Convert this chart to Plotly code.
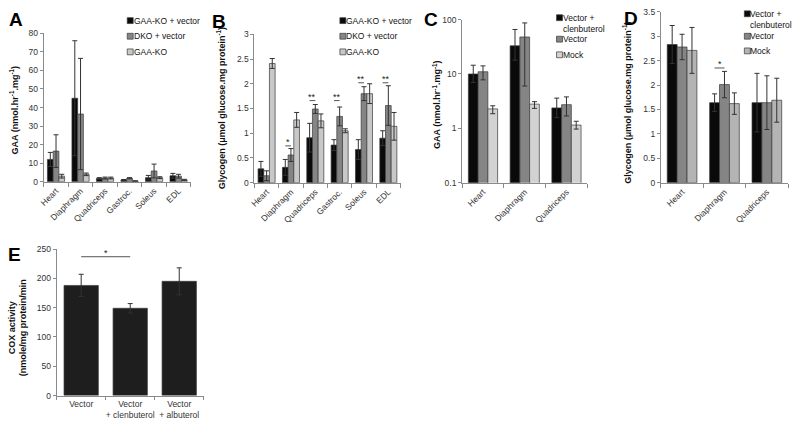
import plotly.graph_objects as go

W, H = 800, 424
FONT = "Liberation Sans"

# ---------------- Data ----------------
muscles6 = ["Heart", "Diaphragm", "Quadriceps", "Gastroc.", "Soleus", "EDL"]
ab_series = ["GAA-KO + vector", "DKO + vector", "GAA-KO"]

# Panel A: GAA activity
a_gaako_vec = [12.0, 45.0, 1.8, 1.0, 2.2, 3.2]
a_gaako_vec_err = [3.8, 31.0, 0.4, 0.2, 1.2, 1.3]
a_dko_vec = [16.5, 36.5, 2.0, 1.9, 5.8, 3.0]
a_dko_vec_err = [8.8, 30.0, 0.5, 0.3, 3.7, 1.0]
a_gaako = [3.0, 4.0, 2.0, 0.4, 2.2, 1.0]
a_gaako_err = [1.0, 0.7, 0.5, 0.1, 0.5, 0.3]

# Panel B: glycogen
b_gaako_vec = [0.28, 0.31, 0.91, 0.76, 0.67, 0.90]
b_gaako_vec_err = [0.15, 0.16, 0.29, 0.11, 0.20, 0.15]
b_dko_vec = [0.14, 0.56, 1.49, 1.34, 1.80, 1.56]
b_dko_vec_err = [0.10, 0.13, 0.09, 0.19, 0.14, 0.40]
b_gaako = [2.41, 1.27, 1.25, 1.05, 1.80, 1.14]
b_gaako_err = [0.10, 0.15, 0.14, 0.04, 0.20, 0.28]
b_sig_idx = [1, 2, 3, 4, 5]
b_sig_level = [0.745, 1.66, 1.66, 2.02, 2.02]
b_sig_text = ["*", "**", "**", "**", "**"]

# Panels C/D
muscles3 = ["Heart", "Diaphragm", "Quadriceps"]
cd_series = ["Vector +<br>clenbuterol", "Vector", "Mock"]

c_vec_clen = [10.0, 33.0, 2.38]
c_vec_clen_plus = [4.5, 33.0, 1.22]
c_vec_clen_minus = [3.0, 15.0, 0.8]
c_vec = [11.0, 48.0, 2.73]
c_vec_plus = [3.1, 39.0, 1.06]
c_vec_minus = [3.2, 42.0, 1.04]
c_mock = [2.28, 2.79, 1.15]
c_mock_plus = [0.32, 0.31, 0.20]
c_mock_minus = [0.42, 0.46, 0.18]

d_vec_clen = [2.83, 1.64, 1.64]
d_vec_clen_err = [0.39, 0.18, 0.60]
d_vec = [2.78, 2.01, 1.64]
d_vec_err = [0.26, 0.27, 0.55]
d_mock = [2.71, 1.62, 1.69]
d_mock_err = [0.47, 0.22, 0.45]
d_sig_idx = [1]
d_sig_level = [2.35]
d_sig_text = ["*"]

# Panel E: COX activity
e_groups = ["Vector", "Vector<br>+ clenbuterol", "Vector<br>+ albuterol"]
e_vals = [188, 149, 195]
e_err = [19, 8, 23]
e_sig_pair = [0, 1]
e_sig_level = 237

# ---------------- Styling ----------------
C_BLACK = "#0a0a0a"
C_DARK = "#858585"
C_LIGHT_AB = "#c8c8c8"
C_LIGHT_C = "#d2d2d2"
C_LIGHT_D = "#b4b4b4"
EDGE = "#3a3a3a"
AXC = "#8a8a8a"
TICKF = dict(size=8.5, color="#333333", family=FONT)

def px_x(p):
    return p / W

def px_y(p):
    return 1 - p / H

fig = go.Figure()

def add_bars(x, y, err, color, xa, ya, err_minus=None, name=None):
    ey = dict(type="data", array=err, visible=True, color="#333333",
              thickness=1, width=2.5)
    if err_minus is not None:
        ey["symmetric"] = False
        ey["arrayminus"] = err_minus
    fig.add_trace(go.Bar(x=x, y=y, name=name, error_y=ey,
                         marker=dict(color=color, line=dict(color=EDGE, width=0.7)),
                         xaxis=xa, yaxis=ya, showlegend=False))

# Panel A
for nm, vals, err, col in [(ab_series[0], a_gaako_vec, a_gaako_vec_err, C_BLACK),
                           (ab_series[1], a_dko_vec, a_dko_vec_err, C_DARK),
                           (ab_series[2], a_gaako, a_gaako_err, C_LIGHT_AB)]:
    add_bars(muscles6, vals, err, col, "x", "y", name=nm)

# Panel B
for nm, vals, err, col in [(ab_series[0], b_gaako_vec, b_gaako_vec_err, C_BLACK),
                           (ab_series[1], b_dko_vec, b_dko_vec_err, C_DARK),
                           (ab_series[2], b_gaako, b_gaako_err, C_LIGHT_AB)]:
    add_bars(muscles6, vals, err, col, "x2", "y2", name=nm)

# Panel C
for vals, ep, em, col in [(c_vec_clen, c_vec_clen_plus, c_vec_clen_minus, C_BLACK),
                          (c_vec, c_vec_plus, c_vec_minus, C_DARK),
                          (c_mock, c_mock_plus, c_mock_minus, C_LIGHT_C)]:
    add_bars(muscles3, vals, ep, col, "x3", "y3", err_minus=em)

# Panel D
for vals, err, col in [(d_vec_clen, d_vec_clen_err, C_BLACK),
                       (d_vec, d_vec_err, C_DARK),
                       (d_mock, d_mock_err, C_LIGHT_D)]:
    add_bars(muscles3, vals, err, col, "x4", "y4")

# Panel E
fig.add_trace(go.Bar(x=e_groups, y=e_vals,
                     error_y=dict(type="data", array=e_err, visible=True,
                                  color="#333333", thickness=1, width=2.5),
                     marker=dict(color="#1e1e1e", line=dict(color=EDGE, width=0.7)),
                     xaxis="x5", yaxis="y5", showlegend=False))

# ---------------- Axes ----------------
def ax_common():
    return dict(showline=True, linecolor=AXC, linewidth=1, ticks="outside",
                ticklen=4, tickcolor=AXC, showgrid=False, zeroline=False,
                tickfont=TICKF, fixedrange=True)

layout_axes = {}
panels = {
    "": dict(xd=(39, 187), yd=(181, 29), yr=[0, 80], dt=10, n=6, ang=-45),
    "2": dict(xd=(251, 398), yd=(182, 30), yr=[0, 3], dt=0.5, n=6, ang=-45),
    "3": dict(xd=(460, 586), yd=(182, 15), yr=[-1, 2], dt=1, n=3, ang=-45, log=True),
    "4": dict(xd=(660, 788), yd=(182, 7), yr=[0, 3.5], dt=0.5, n=3, ang=-45),
    "5": dict(xd=(52, 200), yd=(400, 250), yr=[0, 250], dt=50, n=3, ang=0),
}
for k, p in panels.items():
    xa = ax_common()
    xa.update(domain=[px_x(p["xd"][0]), px_x(p["xd"][1])], type="category",
              tickson="boundaries", tickangle=p["ang"], range=[-0.5, p["n"] - 0.5],
              anchor="y" + k)
    if k == "5":
        xa.update(ticklen=3)
    ya = ax_common()
    ya.update(domain=[px_y(p["yd"][0]), px_y(p["yd"][1])], range=p["yr"],
              dtick=p["dt"], anchor="x" + k, ticklen=3)
    if p.get("log"):
        ya.update(type="log")
    layout_axes["xaxis" + k] = xa
    layout_axes["yaxis" + k] = ya

fig.update_layout(**layout_axes)

# ---------------- Significance marks ----------------
shapes = []
annotations = []
BARGAP = 0.3

def sig(xc0, xc1, level, text, xr, yr):
    shapes.append(dict(type="line", xref=xr, yref=yr, x0=xc0, x1=xc1,
                       y0=level, y1=level, line=dict(color="#555555", width=1)))
    annotations.append(dict(x=(xc0 + xc1) / 2, y=level, xref=xr, yref=yr,
                            text=text, showarrow=False, yanchor="bottom",
                            yshift=-3, font=dict(size=9, color="#222222", family=FONT)))

wbar = (1 - BARGAP) / 3
for i, lv, t in zip(b_sig_idx, b_sig_level, b_sig_text):
    sig(i - wbar, i, lv, t, "x2", "y2")
for i, lv, t in zip(d_sig_idx, d_sig_level, d_sig_text):
    sig(i - wbar, i, lv, t, "x4", "y4")
sig(e_sig_pair[0], e_sig_pair[1], e_sig_level, "*", "x5", "y5")

# ---------------- Panel letters & y titles ----------------
for letter, x, y in [("A", 2, 2), ("B", 206, 4), ("C", 420, 2), ("D", 621, 1), ("E", 1, 243)]:
    annotations.append(dict(x=px_x(x), y=px_y(y), xref="paper", yref="paper",
                            text=letter, showarrow=False, xanchor="left", yanchor="top",
                            font=dict(size=19, color="#000000", family=FONT, weight="bold")))

ytitles = [
    ("GAA (nmol.hr<sup>-1</sup>.mg<sup>-1</sup>)", 10, 108),
    ("Glycogen (μmol glucose.mg protein<sup>-1</sup>)", 217, 106),
    ("GAA (nmol.hr<sup>-1</sup>.mg<sup>-1</sup>)", 434, 102),
    ("Glycogen (μmol glucose.mg protein<sup>-1</sup>)", 626, 100),
    ("COX activity<br>(nmole/mg protein/min", 13, 330),
]
for txt, x, y in ytitles:
    annotations.append(dict(x=px_x(x), y=px_y(y), xref="paper", yref="paper",
                            text=txt, showarrow=False, textangle=-90,
                            xanchor="center", yanchor="middle",
                            font=dict(size=9, color="#111111", family=FONT, weight="bold")))

# ---------------- Legends (drawn as keys) ----------------
LEGF = dict(size=8.5, color="#111111", family=FONT)

def legend_block(labels, colors, sq_x, text_x, sq_ys, text_tops):
    for lab, col, sy, ty in zip(labels, colors, sq_ys, text_tops):
        shapes.append(dict(type="rect", xref="paper", yref="paper",
                           x0=px_x(sq_x), x1=px_x(sq_x + 6),
                           y0=px_y(sy + 3), y1=px_y(sy - 3),
                           fillcolor=col, line=dict(color=EDGE, width=0.7)))
        annotations.append(dict(x=px_x(text_x), y=px_y(ty), xref="paper", yref="paper",
                                text=lab, showarrow=False, xanchor="left", align="left",
                                yanchor="top", font=LEGF, borderpad=0))

legend_block(ab_series, [C_BLACK, C_DARK, C_LIGHT_AB],
             123, 129, [16, 32, 48], [10, 26, 42])
legend_block(ab_series, [C_BLACK, C_DARK, C_LIGHT_AB],
             337, 342, [16, 32, 48], [10, 26, 42])
legend_block(cd_series, [C_BLACK, C_DARK, C_LIGHT_C],
             555, 560, [13, 35, 51], [7, 29, 45])
legend_block(cd_series, [C_BLACK, C_DARK, C_LIGHT_D],
             744, 749, [9, 32, 47], [3, 26, 41])

fig.update_layout(
    width=W, height=H, margin=dict(l=0, r=0, t=0, b=0),
    paper_bgcolor="white", plot_bgcolor="white",
    barmode="group", bargap=BARGAP, bargroupgap=0, showlegend=False,
    font=dict(family=FONT, size=9, color="#333333"),
    shapes=shapes, annotations=annotations,
)

fig.write_html("out.html", config={"displayModeBar": False, "staticPlot": True},
               post_script="document.body.style.margin='0px';document.body.style.padding='0px';")
